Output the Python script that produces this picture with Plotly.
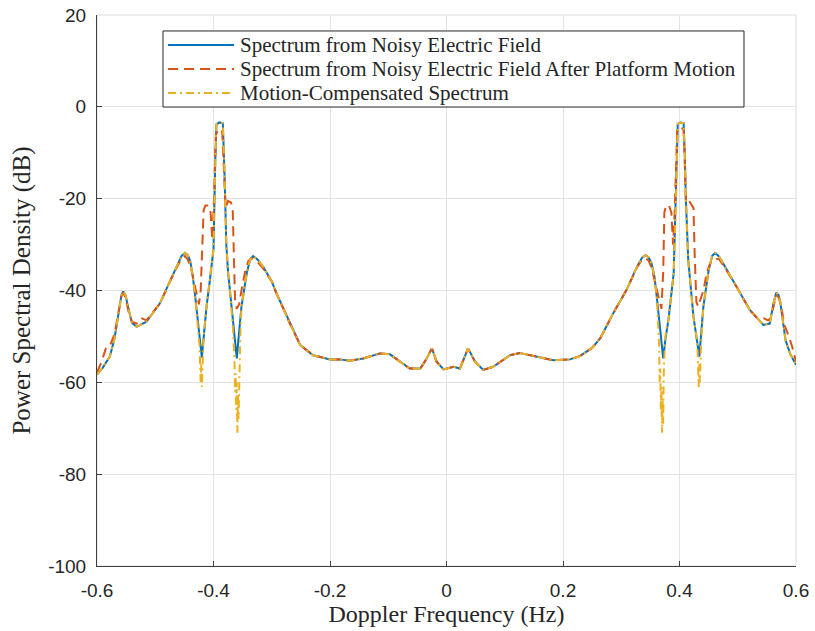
import plotly.graph_objects as go

# ---- Data ----
blue_x = [-0.600, -0.590, -0.578, -0.570, -0.563, -0.558, -0.555, -0.551, -0.546, -0.540,
          -0.532, -0.515, -0.492, -0.469, -0.455, -0.449, -0.444, -0.440, -0.436, -0.432,
          -0.426, -0.420, -0.416, -0.412, -0.406, -0.400, -0.397, -0.395, -0.390, -0.384,
          -0.381, -0.378, -0.375, -0.372, -0.366, -0.360, -0.356, -0.352, -0.343, -0.337,
          -0.332, -0.324, -0.315, -0.300, -0.292, -0.280, -0.269, -0.251, -0.229, -0.200,
          -0.183, -0.166, -0.143, -0.114, -0.097, -0.080, -0.063, -0.045, -0.034, -0.025,
          -0.017, -0.005, 0.012, 0.023, 0.037, 0.049, 0.063, 0.080, 0.109, 0.126,
          0.149, 0.183, 0.212, 0.229, 0.250, 0.264, 0.286, 0.309, 0.327, 0.336,
          0.342, 0.347, 0.352, 0.357, 0.361, 0.367, 0.372, 0.376, 0.381, 0.390,
          0.394, 0.397, 0.402, 0.407, 0.409, 0.411, 0.415, 0.420, 0.424, 0.434,
          0.438, 0.441, 0.450, 0.456, 0.461, 0.468, 0.475, 0.498, 0.521, 0.544,
          0.555, 0.561, 0.566, 0.570, 0.573, 0.582, 0.590, 0.600]
blue_y = [-58.3, -56.8, -54.4, -50.5, -45.0, -41.0, -40.2, -41.0, -44.0, -47.0,
          -47.9, -46.8, -42.8, -36.3, -32.5, -31.8, -32.3, -33.6, -36.5, -40.6,
          -48.0, -54.6, -49.0, -43.5, -37.5, -31.0, -12.0, -3.8, -3.4, -3.6,
          -15.0, -30.0, -36.0, -39.5, -46.5, -54.8, -49.0, -43.5, -36.3, -33.2,
          -32.5, -33.3, -34.8, -38.0, -40.6, -44.0, -47.2, -51.9, -54.1, -55.0,
          -55.0, -55.3, -54.8, -53.7, -53.9, -55.5, -57.0, -57.0, -54.8, -52.6,
          -55.5, -57.2, -56.6, -57.0, -52.6, -55.5, -57.3, -56.6, -54.1, -53.6,
          -54.3, -55.2, -55.0, -54.3, -52.5, -50.4, -45.0, -39.9, -34.8, -32.8,
          -32.3, -32.8, -34.1, -37.0, -41.4, -48.0, -54.8, -50.5, -46.4, -36.3,
          -20.0, -3.7, -3.4, -3.6, -10.0, -20.3, -33.4, -40.0, -45.7, -54.4,
          -48.0, -43.5, -35.6, -32.5, -31.8, -32.6, -34.1, -39.2, -44.3, -47.5,
          -47.2, -43.0, -40.5, -41.0, -42.5, -50.8, -53.8, -56.2]

red_x = [-0.600, -0.592, -0.584, -0.577, -0.570, -0.563, -0.558, -0.555, -0.551, -0.546,
         -0.540, -0.532, -0.524, -0.515, -0.492, -0.469, -0.455, -0.449, -0.444, -0.438,
         -0.432, -0.428, -0.425, -0.422, -0.419, -0.417, -0.414, -0.409, -0.405, -0.402,
         -0.399, -0.396, -0.390, -0.385, -0.382, -0.379, -0.375, -0.370, -0.367, -0.365,
         -0.363, -0.360, -0.356, -0.352, -0.346, -0.340, -0.333, -0.324, -0.315, -0.300,
         -0.292, -0.280, -0.269, -0.251, -0.229, -0.200, -0.183, -0.166, -0.143, -0.114,
         -0.097, -0.080, -0.063, -0.045, -0.034, -0.025, -0.017, -0.005, 0.012, 0.023,
         0.037, 0.049, 0.063, 0.080, 0.109, 0.126, 0.149, 0.183, 0.212, 0.229,
         0.250, 0.264, 0.286, 0.309, 0.327, 0.336, 0.342, 0.347, 0.352, 0.357,
         0.361, 0.365, 0.369, 0.372, 0.374, 0.377, 0.382, 0.386, 0.389, 0.392,
         0.396, 0.402, 0.407, 0.409, 0.411, 0.414, 0.419, 0.424, 0.426, 0.429,
         0.432, 0.436, 0.441, 0.447, 0.453, 0.461, 0.468, 0.475, 0.498, 0.521,
         0.535, 0.544, 0.552, 0.557, 0.561, 0.566, 0.570, 0.574, 0.580, 0.588,
         0.594, 0.600]
red_y = [-57.8, -55.5, -52.3, -51.8, -49.5, -45.0, -41.2, -40.5, -41.5, -44.5,
         -46.8, -47.2, -46.0, -46.5, -42.8, -36.5, -33.0, -32.5, -33.3, -35.5,
         -39.0, -41.5, -43.0, -40.0, -30.0, -22.5, -21.5, -21.5, -23.0, -29.0,
         -20.0, -6.0, -4.8, -5.5, -14.0, -22.0, -20.5, -20.8, -22.5, -32.0,
         -42.0, -44.0, -43.0, -40.0, -36.0, -33.5, -33.0, -33.8, -35.2, -38.0,
         -40.6, -44.0, -47.2, -51.9, -54.1, -55.0, -55.0, -55.3, -54.8, -53.7,
         -53.9, -55.5, -57.0, -57.0, -54.8, -52.6, -55.5, -57.2, -56.6, -57.0,
         -52.6, -55.5, -57.3, -56.6, -54.1, -53.6, -54.3, -55.2, -55.0, -54.3,
         -52.5, -50.4, -45.0, -39.9, -35.0, -33.2, -33.0, -33.5, -35.0, -37.5,
         -39.5, -42.0, -44.0, -36.0, -23.0, -21.5, -21.5, -23.0, -30.0, -22.0,
         -5.0, -4.3, -5.0, -12.0, -20.5, -20.0, -21.0, -22.0, -32.0, -42.5,
         -43.5, -42.0, -40.0, -36.0, -34.0, -33.0, -33.2, -34.5, -39.2, -44.3,
         -46.2, -46.0, -46.5, -46.0, -43.5, -41.0, -41.5, -43.0, -47.5, -50.0,
         -52.5, -55.5]

yellow_x = [-0.600, -0.590, -0.578, -0.570, -0.563, -0.558, -0.555, -0.551, -0.546, -0.540,
            -0.532, -0.515, -0.492, -0.469, -0.455, -0.449, -0.444, -0.440, -0.436, -0.432,
            -0.426, -0.424, -0.422, -0.421, -0.420, -0.419, -0.417, -0.412, -0.406, -0.400,
            -0.397, -0.395, -0.390, -0.384, -0.381, -0.378, -0.375, -0.372, -0.367, -0.364,
            -0.363, -0.362, -0.361, -0.360, -0.359, -0.358, -0.357, -0.356, -0.354, -0.352,
            -0.343, -0.337, -0.332, -0.324, -0.315, -0.300, -0.292, -0.280, -0.269, -0.251,
            -0.229, -0.200, -0.183, -0.166, -0.143, -0.114, -0.097, -0.080, -0.063, -0.045,
            -0.034, -0.025, -0.017, -0.005, 0.012, 0.023, 0.037, 0.049, 0.063, 0.080,
            0.109, 0.126, 0.149, 0.183, 0.212, 0.229, 0.250, 0.264, 0.286, 0.309,
            0.327, 0.336, 0.342, 0.347, 0.352, 0.357, 0.361, 0.365, 0.366, 0.367,
            0.368, 0.369, 0.370, 0.371, 0.372, 0.373, 0.375, 0.378, 0.381, 0.390,
            0.394, 0.397, 0.402, 0.407, 0.409, 0.411, 0.415, 0.420, 0.424, 0.429,
            0.431, 0.433, 0.434, 0.435, 0.437, 0.441, 0.450, 0.456, 0.461, 0.468,
            0.475, 0.498, 0.521, 0.544, 0.555, 0.561, 0.566, 0.570, 0.573, 0.582,
            0.590, 0.600]
yellow_y = [-58.3, -56.8, -54.4, -50.5, -45.0, -41.0, -40.2, -41.0, -44.0, -47.0,
            -47.9, -46.8, -42.8, -36.3, -32.5, -31.8, -32.3, -33.6, -36.5, -40.6,
            -48.0, -52.0, -60.0, -56.0, -61.0, -55.0, -50.0, -43.5, -37.5, -31.0,
            -12.0, -3.8, -3.4, -3.6, -15.0, -30.0, -36.0, -39.5, -47.5, -55.0,
            -62.0, -58.0, -66.0, -60.0, -71.0, -63.0, -68.0, -58.0, -50.0, -43.5,
            -36.3, -33.2, -32.5, -33.3, -34.8, -38.0, -40.6, -44.0, -47.2, -51.9,
            -54.1, -55.0, -55.0, -55.3, -54.8, -53.7, -53.9, -55.5, -57.0, -57.0,
            -54.8, -52.6, -55.5, -57.2, -56.6, -57.0, -52.6, -55.5, -57.3, -56.6,
            -54.1, -53.6, -54.3, -55.2, -55.0, -54.3, -52.5, -50.4, -45.0, -39.9,
            -34.8, -32.8, -32.3, -32.8, -34.1, -37.0, -41.4, -52.0, -60.0, -57.0,
            -66.0, -61.0, -71.0, -64.0, -69.0, -58.0, -51.0, -48.0, -46.4, -36.3,
            -20.0, -3.7, -3.4, -3.6, -10.0, -20.3, -33.4, -40.0, -45.7, -50.0,
            -53.0, -61.0, -56.0, -60.0, -52.0, -43.5, -35.6, -32.5, -31.8, -32.6,
            -34.1, -39.2, -44.3, -47.5, -47.2, -43.0, -40.5, -41.0, -42.5, -50.8,
            -53.8, -56.2]

series_names = ["Spectrum from Noisy Electric Field",
                "Spectrum from Noisy Electric Field After Platform Motion",
                "Motion-Compensated Spectrum"]
series_colors = ["#0072BD", "#D95319", "#EDB120"]
series_dash = ["solid", "10px,6px", "8px,4px,2px,4px"]
x_ticks = [-0.6, -0.4, -0.2, 0, 0.2, 0.4, 0.6]
x_tick_labels = ["-0.6", "-0.4", "-0.2", "0", "0.2", "0.4", "0.6"]
y_ticks = [-100, -80, -60, -40, -20, 0, 20]
y_tick_labels = ["-100", "-80", "-60", "-40", "-20", "0", "20"]

# ---- Figure ----
fig = go.Figure()
for xs, ys, name, col, dsh in zip([blue_x, red_x, yellow_x], [blue_y, red_y, yellow_y],
                                  series_names, series_colors, series_dash):
    fig.add_trace(go.Scatter(x=xs, y=ys, mode="lines", name=name,
                             line=dict(color=col, width=2, dash=dsh)))

# light box on the top/right edges
fig.add_shape(type="rect", xref="paper", yref="paper", x0=0, y0=0, x1=1, y1=1,
              line=dict(color="#DCDCDC", width=1), layer="below")

# legend box (MATLAB style), drawn in paper coordinates
leg_x0, leg_x1, leg_y0, leg_y1 = 0.0944, 0.9256, 0.833, 0.971
row_y = [0.9456, 0.902, 0.8584]
fig.add_shape(type="rect", xref="paper", yref="paper", x0=leg_x0, x1=leg_x1,
              y0=leg_y0, y1=leg_y1, line=dict(color="#262626", width=1),
              fillcolor="white", layer="above")
for ry, name, col, dsh in zip(row_y, series_names, series_colors, series_dash):
    fig.add_shape(type="line", xref="paper", yref="paper", x0=0.1016, x1=0.196,
                  y0=ry, y1=ry, line=dict(color=col, width=2, dash=dsh), layer="above")
    fig.add_annotation(xref="paper", yref="paper", x=0.2017, y=ry, text=name,
                       showarrow=False, xanchor="left", yanchor="middle",
                       font=dict(family="Liberation Serif", size=21, color="#262626"))

fig.update_layout(
    width=815, height=631,
    margin=dict(l=97, r=19, t=15, b=65, autoexpand=False),
    paper_bgcolor="white", plot_bgcolor="white",
    showlegend=False,
    xaxis=dict(range=[-0.6, 0.6], tickvals=x_ticks, ticktext=x_tick_labels,
               showgrid=True, gridcolor="#E3E3E3", gridwidth=1, zeroline=False,
               showline=True, linecolor="#404040", linewidth=1,
               ticks="inside", ticklen=5, tickcolor="#404040", ticklabelstandoff=7,
               tickfont=dict(family="Liberation Sans", size=19, color="#262626"),
               title=dict(text="Doppler Frequency (Hz)", standoff=4,
                          font=dict(family="Liberation Serif", size=24, color="#262626"))),
    yaxis=dict(range=[-100, 20], tickvals=y_ticks, ticktext=y_tick_labels,
               showgrid=True, gridcolor="#E3E3E3", gridwidth=1, zeroline=False,
               showline=True, linecolor="#404040", linewidth=1,
               ticks="inside", ticklen=5, tickcolor="#404040", ticklabelstandoff=6,
               tickfont=dict(family="Liberation Sans", size=19, color="#262626"),
               title=dict(text="Power Spectral Density (dB)", standoff=10,
                          font=dict(family="Liberation Serif", size=25, color="#262626"))),
)

fig.write_html("out.html")
